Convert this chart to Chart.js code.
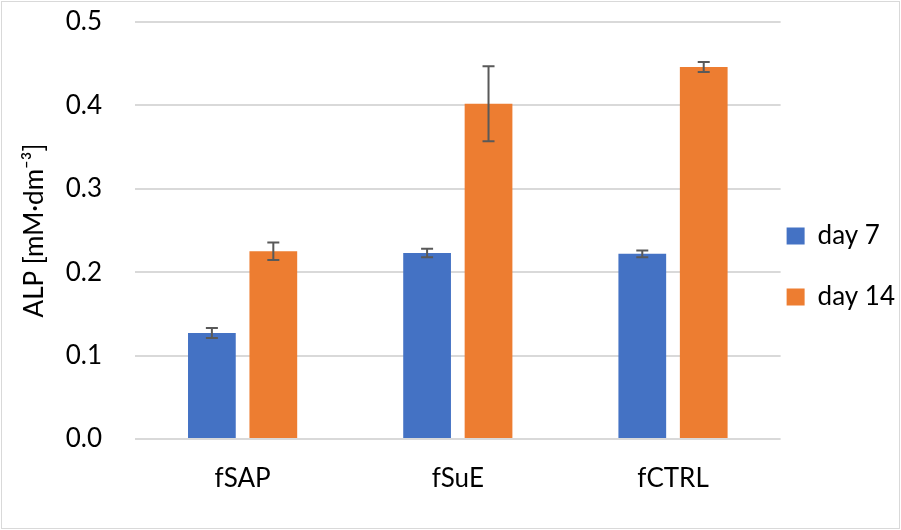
<!DOCTYPE html>
<html>
<head>
<meta charset="utf-8">
<script src="https://cdn.jsdelivr.net/npm/chart.js@4"></script>
<style>
  body { margin: 0; background: #fff; }
  #wrap { position: relative; width: 901px; height: 530px; }
  #frame { position: absolute; left: 1px; top: 1px; right: 1px; bottom: 1px; border: 1.5px solid #d9d9d9; pointer-events: none; }
</style>
</head>
<body>
<div id="wrap">
  <canvas id="chart" width="901" height="530"></canvas>
  <div id="frame"></div>
</div>
<script>
const categories = ["fSAP", "fSuE", "fCTRL"];
const day7 = [0.127, 0.223, 0.222];
const day7Err = [0.006, 0.005, 0.004];
const day14 = [0.225, 0.402, 0.446];
const day14Err = [0.0105, 0.045, 0.006];
const yTicks = [0, 0.1, 0.2, 0.3, 0.4, 0.5];

const FONT = "Lato";

// draw the error bars on top of each bar
const errorBars = {
  id: "errorBars",
  afterDatasetsDraw(chart) {
    const ctx = chart.ctx;
    const y = chart.scales.y;
    ctx.save();
    ctx.strokeStyle = "#595959";
    ctx.lineWidth = 2;
    chart.data.datasets.forEach((ds, i) => {
      const meta = chart.getDatasetMeta(i);
      meta.data.forEach((bar, j) => {
        const v = ds.data[j], e = ds.errors[j];
        const top = y.getPixelForValue(v + e);
        const bot = y.getPixelForValue(v - e);
        ctx.beginPath();
        ctx.moveTo(bar.x, top); ctx.lineTo(bar.x, bot);
        ctx.moveTo(bar.x - 6, top); ctx.lineTo(bar.x + 6, top);
        ctx.moveTo(bar.x - 6, bot); ctx.lineTo(bar.x + 6, bot);
        ctx.stroke();
      });
    });
    ctx.restore();
  }
};

new Chart(document.getElementById("chart"), {
  type: "bar",
  data: {
    labels: categories,
    datasets: [
      { label: "day 7", data: day7, errors: day7Err, backgroundColor: "#4472C4",
        categoryPercentage: 0.571, barPercentage: 0.777 },
      { label: "day 14", data: day14, errors: day14Err, backgroundColor: "#ED7D31",
        categoryPercentage: 0.571, barPercentage: 0.777 }
    ]
  },
  options: {
    responsive: false,
    animation: false,
    layout: { padding: { left: 19, top: 22, right: -4, bottom: 0 } },
    plugins: {
      tooltip: { enabled: false },
      legend: {
        position: "right",
        // blank title only pushes the items down a little
        title: { display: true, text: " ", padding: 0, font: { family: FONT, size: 10, lineHeight: "10px" } },
        labels: {
          font: { family: FONT, size: 26, lineHeight: "55px" },
          color: "#000",
          boxWidth: 18,
          boxHeight: 17,
          padding: 6,
          generateLabels(chart) {
            return Chart.defaults.plugins.legend.labels.generateLabels(chart)
              .map(item => Object.assign(item, { text: [item.text] }));
          }
        }
      }
    },
    scales: {
      x: {
        grid: { display: false },
        border: { display: false },
        ticks: { font: { family: FONT, size: 26 }, color: "#000", padding: 16 },
        afterFit(scale) { scale.height = 91; }
      },
      y: {
        min: 0,
        max: 0.5,
        afterBuildTicks(scale) { scale.ticks = yTicks.map(v => ({ value: v })); },
        grid: { color: "#d9d9d9", lineWidth: 2, drawTicks: true, tickLength: 33, tickColor: "rgba(0,0,0,0)" },
        border: { display: false },
        ticks: {
          font: { family: FONT, size: 26 },
          color: "#000",
          padding: 0,
          callback: v => v.toFixed(1)
        },
        title: {
          display: true,
          text: "ALP [mM·dm⁻³]",
          font: { family: FONT, size: 26 },
          color: "#000",
          padding: 0
        },
        afterFit(scale) { scale.width = 116; }
      }
    }
  },
  plugins: [errorBars]
});
</script>
</body>
</html>
